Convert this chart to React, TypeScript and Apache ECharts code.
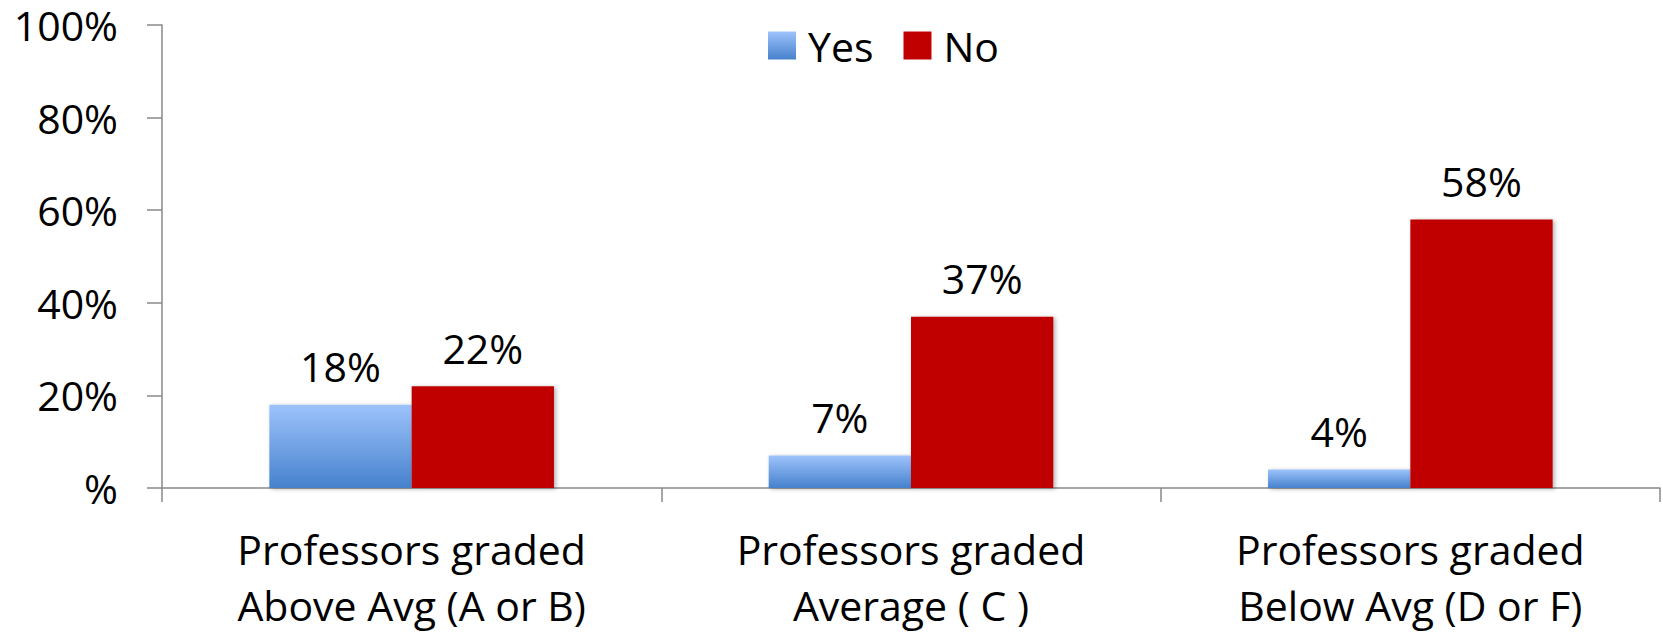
import React, { useEffect, useRef } from "react";
import * as echarts from "echarts";

const categories = [
  "Professors graded\nAbove Avg (A or B)",
  "Professors graded\nAverage ( C )",
  "Professors graded\nBelow Avg (D or F)",
];
const yesValues = [18, 7, 4];
const noValues = [22, 37, 58];
const seriesNames = ["Yes", "No"];
const yMin = 0;
const yMax = 100;
const yInterval = 20;

const FONT = "'Open Sans', 'Noto Sans', sans-serif";

export default function App() {
  const ref = useRef<HTMLDivElement>(null);

  useEffect(() => {
    document.body.style.margin = "0";
    if (!ref.current) return;
    const chart = echarts.init(ref.current, null, { renderer: "svg" });
    const shadow = {
      shadowColor: "rgba(0,0,0,0.3)",
      shadowBlur: 4,
      shadowOffsetX: 2,
      shadowOffsetY: 1,
    };
    const labelStyle = {
      show: true,
      position: "top" as const,
      distance: 18,
      formatter: "{c}%",
      fontFamily: FONT,
      fontSize: 41,
      color: "#000",
    };
    chart.setOption({
      animation: false,
      backgroundColor: "#fff",
      textStyle: { fontFamily: FONT },
      legend: {
        left: 768,
        top: 25,
        padding: 0,
        itemWidth: 28,
        itemHeight: 28,
        itemGap: 30,
        icon: "rect",
        textStyle: {
          fontFamily: FONT,
          fontSize: 41,
          color: "#000",
          lineHeight: 28,
          padding: [0, 0, 0, 7],
        },
        data: seriesNames,
      },
      grid: { left: 162, right: 3, top: 25, bottom: 144, containLabel: false },
      xAxis: {
        type: "category",
        data: categories,
        axisLine: { lineStyle: { color: "#888", width: 1.5 } },
        axisTick: { show: true, length: 14, lineStyle: { color: "#888", width: 1.5 } },
        axisLabel: {
          fontFamily: FONT,
          fontSize: 41,
          color: "#000",
          lineHeight: 56,
          margin: 33,
          interval: 0,
        },
      },
      yAxis: {
        type: "value",
        min: yMin,
        max: yMax,
        interval: yInterval,
        splitLine: { show: false },
        axisLine: { show: true, lineStyle: { color: "#888", width: 1.5 } },
        axisTick: { show: true, length: 15, lineStyle: { color: "#888", width: 1.5 } },
        axisLabel: {
          fontFamily: FONT,
          fontSize: 41,
          color: "#000",
          margin: 44,
          formatter: (v: number) => (v === 0 ? "%" : v + "%"),
        },
      },
      series: [
        {
          name: seriesNames[0],
          type: "bar",
          data: yesValues,
          barGap: "0%",
          barCategoryGap: "43%",
          itemStyle: {
            color: new echarts.graphic.LinearGradient(0, 0, 0, 1, [
              { offset: 0, color: "#9DC3FB" },
              { offset: 1, color: "#4681CD" },
            ]),
            ...shadow,
          },
          label: labelStyle,
        },
        {
          name: seriesNames[1],
          type: "bar",
          data: noValues,
          barGap: "0%",
          barCategoryGap: "43%",
          itemStyle: { color: "#C00000", ...shadow },
          label: labelStyle,
        },
      ],
    });
    return () => chart.dispose();
  }, []);

  return <div ref={ref} style={{ width: 1663, height: 633 }} />;
}
